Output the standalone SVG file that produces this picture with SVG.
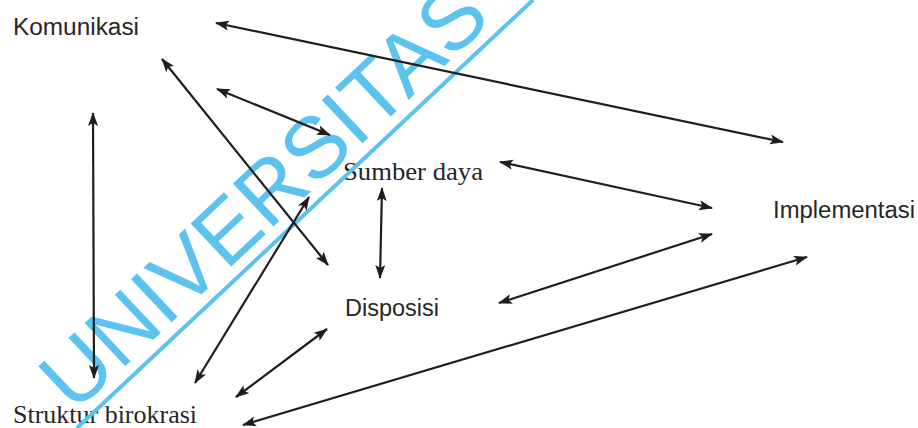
<svg xmlns="http://www.w3.org/2000/svg" width="918" height="428" viewBox="0 0 918 428">
  <style>
    .sans { font-family: "Liberation Sans", "DejaVu Sans", sans-serif; font-size: 23px; fill: #262626; }
    .serif { font-family: "Liberation Serif", "DejaVu Serif", serif; font-size: 25px; fill: #262626; }
    .wm { font-family: "Liberation Sans", "DejaVu Sans", sans-serif; font-size: 86px; fill: #5cc2ee; }
    .conn line { stroke: #1e1e1e; stroke-width: 2.2; fill: none; marker-start: url(#ah); marker-end: url(#ah); }
  </style>
  <defs>
    <marker id="ah" markerUnits="userSpaceOnUse" markerWidth="14" markerHeight="11" refX="13" refY="5" orient="auto-start-reverse">
      <path d="M0,0 L14,5 L0,10 L3,5 z" fill="#1e1e1e"/>
    </marker>
  </defs>
  <rect width="918" height="428" fill="#ffffff"/>

  <g id="komunikasi"><text class="sans" x="13" y="35" textLength="126" lengthAdjust="spacingAndGlyphs">Komunikasi</text></g>
  <g id="sumber-daya"><text class="serif" x="343" y="180" textLength="140" lengthAdjust="spacingAndGlyphs">Sumber daya</text></g>
  <g id="disposisi"><text class="sans" x="345" y="316" textLength="94" lengthAdjust="spacingAndGlyphs">Disposisi</text></g>
  <g id="implementasi"><text class="sans" x="773" y="218" textLength="142" lengthAdjust="spacingAndGlyphs">Implementasi</text></g>
  <g id="struktur-birokrasi"><text class="serif" x="13" y="423" textLength="184" lengthAdjust="spacingAndGlyphs">Struktur birokrasi</text></g>

  <g id="watermark">
    <g transform="translate(74,414) rotate(-43.2)">
      <text class="wm" x="0" y="0" textLength="575" lengthAdjust="spacingAndGlyphs">UNIVERSITAS</text>
    </g>
    <line x1="77" y1="428" x2="533" y2="0" stroke="#5cc2ee" stroke-width="4"/>
  </g>

  <g id="connectors" class="conn">
    <line x1="216" y1="23" x2="783" y2="142"/>
    <line x1="162" y1="59" x2="328" y2="265"/>
    <line x1="217" y1="89" x2="330" y2="135"/>
    <line x1="93" y1="113" x2="94" y2="378"/>
    <line x1="195" y1="383" x2="309" y2="197"/>
    <line x1="382" y1="188" x2="380" y2="278"/>
    <line x1="500" y1="162" x2="712" y2="208"/>
    <line x1="499" y1="303" x2="712" y2="234"/>
    <line x1="236" y1="397" x2="327" y2="329"/>
    <line x1="243" y1="425" x2="807" y2="257"/>
  </g>
</svg>
